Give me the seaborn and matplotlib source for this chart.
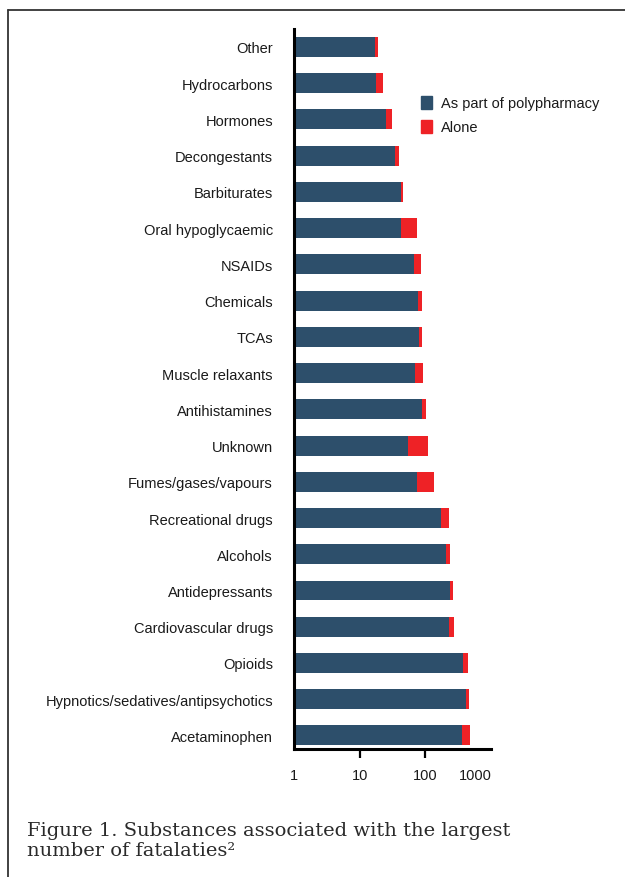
import matplotlib
matplotlib.use("Agg")
import matplotlib.pyplot as plt
import matplotlib.patches as mpatches
import matplotlib.lines as mlines
import seaborn as sns
import pandas as pd

substances = [
    "Other", "Hydrocarbons", "Hormones", "Decongestants", "Barbiturates",
    "Oral hypoglycaemic", "NSAIDs", "Chemicals", "TCAs", "Muscle relaxants",
    "Antihistamines", "Unknown", "Fumes/gases/vapours", "Recreational drugs",
    "Alcohols", "Antidepressants", "Cardiovascular drugs", "Opioids",
    "Hypnotics/sedatives/antipsychotics", "Acetaminophen",
]
polypharmacy = [17, 18, 25, 34, 42, 43, 68, 78, 80, 70,
                89, 55, 75, 171, 204, 234, 226, 366, 415, 354]
alone = [2, 5, 6, 6, 4, 32, 18, 11, 9, 22,
         13, 54, 60, 55, 30, 25, 42, 70, 38, 129]
tick_values = [1, 10, 100, 1000]
tick_labels = ["1", "10", "100", "1000"]

BLUE = "#2d4f6b"
RED = "#ee2226"
TEXT = "#1a1a1a"
LABEL_FONT = ["Liberation Sans", "DejaVu Sans"]

df = pd.DataFrame({
    "substance": substances,
    "poly": polypharmacy,
    "total": [p + a for p, a in zip(polypharmacy, alone)],
})

sns.set_style("white")
fig = plt.figure(figsize=(6.25, 8.78), dpi=100)
ax = fig.add_axes([0.470, 0.146, 0.316, 0.820])
ax.set_xscale("log")

# red "alone" segment drawn as total, blue part on top
sns.barplot(data=df, x="total", y="substance", color=RED, width=0.55,
            saturation=1, linewidth=0, ax=ax)
sns.barplot(data=df, x="poly", y="substance", color=BLUE, width=0.55,
            saturation=1, linewidth=0, ax=ax)

ax.set_xlim(1, 1000)
ax.set_ylim(len(substances) - 1 + 0.37, -0.5)
ax.set_xlabel("")
ax.set_ylabel("")

ax.set_xticks(tick_values)
ax.set_xticklabels(tick_labels, fontsize=10.5, family=LABEL_FONT, color=TEXT)
ax.xaxis.set_minor_locator(matplotlib.ticker.NullLocator())
ax.tick_params(axis="x", length=6.5, width=1.6, direction="out", pad=7,
               color="black", bottom=True)
xt = ax.xaxis.get_major_ticks()
xt[0].tick1line.set_visible(False)
xt[-1].tick1line.set_visible(False)
xt[-1].label1.set_horizontalalignment("right")

ax.tick_params(axis="y", length=0, pad=15)
for lab in ax.get_yticklabels():
    lab.set_fontsize(10.5)
    lab.set_family(LABEL_FONT)
    lab.set_color(TEXT)

sns.despine(ax=ax)
for side in ("left", "bottom"):
    ax.spines[side].set_linewidth(2.2)
    ax.spines[side].set_color("black")

handles = [mpatches.Patch(color=BLUE, label="As part of polypharmacy"),
           mpatches.Patch(color=RED, label="Alone")]
leg = fig.legend(handles=handles, loc="upper left", bbox_to_anchor=(0.652, 0.905),
                 frameon=False, handlelength=0.8, handleheight=1.0,
                 handletextpad=0.6, labelspacing=0.65,
                 prop={"family": LABEL_FONT, "size": 10.5})
for t in leg.get_texts():
    t.set_color(TEXT)

# frame lines on top and left of the figure
fig.add_artist(mlines.Line2D([8 / 625, 1], [1 - 11 / 878, 1 - 11 / 878],
                             color="#333333", lw=1.3))
fig.add_artist(mlines.Line2D([8 / 625, 8 / 625], [0, 1 - 11 / 878],
                             color="#333333", lw=1.3))

fig.text(27 / 625, 1 - 841 / 878,
         "Figure 1. Substances associated with the largest\nnumber of fatalaties\u00b2",
         ha="left", va="center", fontsize=14, family="DejaVu Serif",
         linespacing=1.15, color="#2a2a2a")

fig.savefig("out.png", dpi=100)
